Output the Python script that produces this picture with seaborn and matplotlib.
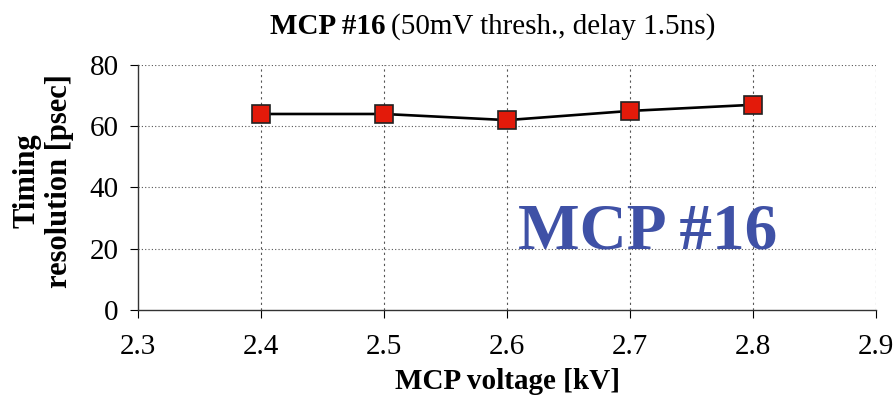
import matplotlib
matplotlib.use("Agg")
import matplotlib.pyplot as plt
import seaborn as sns
import pandas as pd

voltage_kv = [2.4, 2.5, 2.6, 2.7, 2.8]
resolution_ps = [64, 64, 62, 65, 67]
x_ticks = [2.3, 2.4, 2.5, 2.6, 2.7, 2.8, 2.9]
y_ticks = [0, 20, 40, 60, 80]

sns.set_theme(style="white")
plt.rcParams["font.family"] = ["Liberation Serif", "DejaVu Serif"]
plt.rcParams["text.color"] = "black"
plt.rcParams["axes.labelcolor"] = "black"

df = pd.DataFrame({"voltage": voltage_kv, "resolution": resolution_ps})

fig = plt.figure(figsize=(8.94, 3.96), dpi=100)
ax = fig.add_axes([0.1544, 0.2172, 0.8255, 0.6187])

sns.lineplot(data=df, x="voltage", y="resolution", ax=ax, color="black",
             linewidth=1.9, marker="s", markersize=13,
             markerfacecolor="#e31a0a", markeredgecolor="#222222",
             markeredgewidth=1.2, zorder=5)

ax.set_xlim(2.3, 2.9)
ax.set_ylim(0, 80)
ax.set_xticks(x_ticks)
ax.set_yticks(y_ticks)
ax.set_xticklabels([f"{v:.1f}" for v in x_ticks])
ax.set_yticklabels([str(v) for v in y_ticks])

# dotted horizontal grid, dashed vertical grid
for y in y_ticks[1:]:
    ax.axhline(y, color="#555555", linestyle=(0, (1, 2)), linewidth=0.8, zorder=1)
for x in x_ticks[1:]:
    ax.axvline(x, color="#555555", linestyle=(0, (2, 3)), linewidth=0.8, zorder=1)

for side in ["top", "right"]:
    ax.spines[side].set_visible(False)
for side in ["left", "bottom"]:
    ax.spines[side].set_color("#333333")
    ax.spines[side].set_linewidth(1.0)

ax.tick_params(axis="both", which="major", labelsize=21, colors="black",
               length=6, width=0.8, direction="out")
ax.tick_params(axis="x", bottom=True, pad=11)
ax.tick_params(axis="y", left=True, pad=8)

ax.set_xlabel("MCP voltage [kV]", fontsize=21, fontweight="bold")
ax.xaxis.label.set_va("center")
ax.xaxis.set_label_coords(0.5, -0.29)

ax.set_ylabel("Timing\nresolution [psec]", fontsize=22, fontweight="bold",
              linespacing=1.15)
ax.yaxis.label.set_va("center")
ax.yaxis.set_label_coords(-0.128, 0.527)

ax.text(0.69, 0.315, "MCP #16", transform=ax.transAxes, fontsize=47,
        fontweight="bold", color="#3f51a6", ha="center", va="center")

fig.text(0.431, 0.932, "MCP #16", fontsize=21, fontweight="bold",
         ha="right", va="center")
fig.text(0.437, 0.932, "(50mV thresh., delay 1.5ns)", fontsize=21,
         ha="left", va="center")

fig.savefig("out.png", dpi=100)
